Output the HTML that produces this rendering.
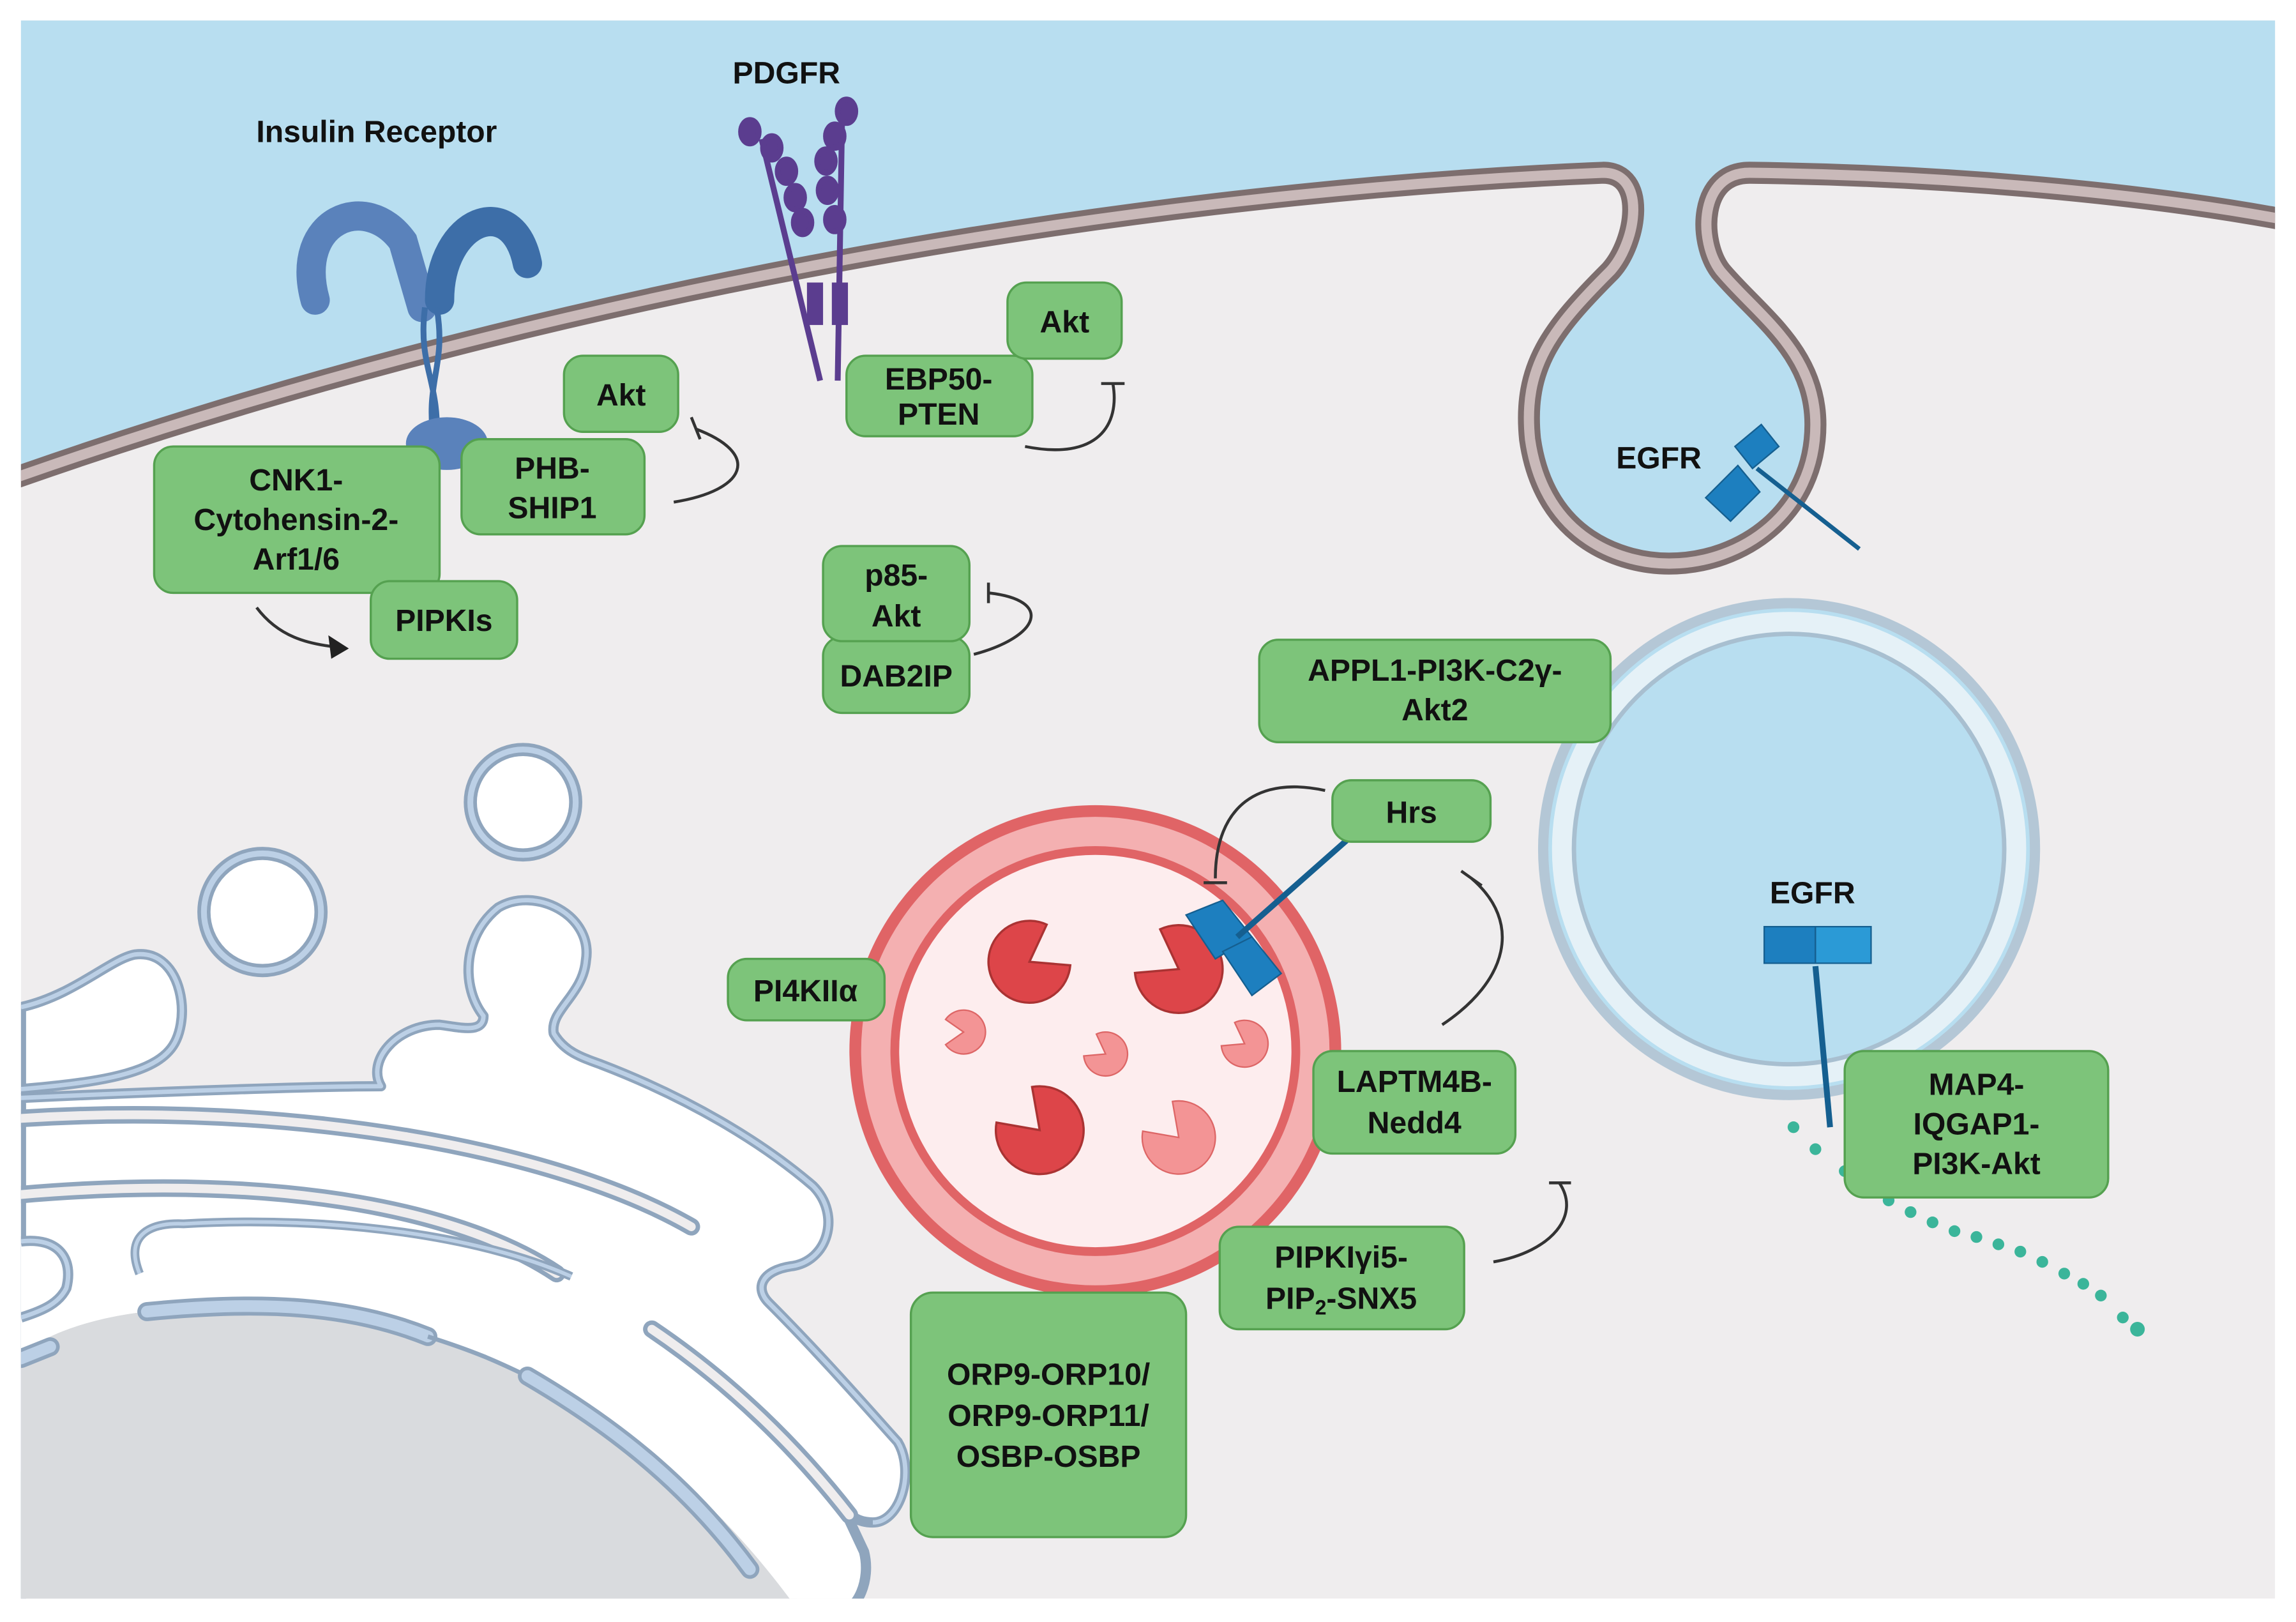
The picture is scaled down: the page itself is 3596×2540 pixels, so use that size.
<!DOCTYPE html>
<html><head><meta charset="utf-8"><style>
html,body{margin:0;padding:0;background:#fff;width:3596px;height:2540px;overflow:hidden}
svg{display:block}
text{font-family:"Liberation Sans",sans-serif;font-weight:bold;fill:#111;text-anchor:middle}
.b{fill:#7dc47a;stroke:#55a150;stroke-width:1.5}
.w{fill:#fff;stroke:#8fa5bd;stroke-width:7;stroke-linejoin:round}
.wl{fill:none;stroke:#bcd0e6;stroke-width:3;stroke-linejoin:round}
.gd{fill:none;stroke:#8fa5bd;stroke-width:12;stroke-linecap:round}
.gl{fill:none;stroke:#efedee;stroke-width:6;stroke-linecap:round}
.td{fill:none;stroke:#8fa5bd;stroke-width:13;stroke-linecap:round}
.tl{fill:none;stroke:#bcd0e6;stroke-width:8;stroke-linecap:round}
.inh{fill:none;stroke:#333;stroke-width:2}
</style></head><body>
<svg width="3596" height="2540" viewBox="0 0 1568 1108" xmlns="http://www.w3.org/2000/svg">
<defs><clipPath id="f"><rect x="14" y="14" width="1540" height="1078"/></clipPath></defs>
<g clip-path="url(#f)">
<rect x="14" y="14" width="1540" height="1078" fill="#efedee"/>
<path d="M14,325 C400,190 800,130 1095,118 C1125,118 1118,165 1100,185 C1060,225 1040,250 1045,300 C1055,370 1110,385 1140,385 C1190,385 1240,350 1240,290 C1240,240 1200,215 1175,185 C1160,165 1160,118 1195,118 C1350,120 1480,135 1560,150 L1560,0 L0,0 L0,330 Z" fill="#b8def0"/>
<path d="M0,330 L14,325 C400,190 800,130 1095,118 C1125,118 1118,165 1100,185 C1060,225 1040,250 1045,300 C1055,370 1110,385 1140,385 C1190,385 1240,350 1240,290 C1240,240 1200,215 1175,185 C1160,165 1160,118 1195,118 C1350,120 1480,135 1560,150" fill="none" stroke="#7d6e6e" stroke-width="15"/>
<path d="M0,330 L14,325 C400,190 800,130 1095,118 C1125,118 1118,165 1100,185 C1060,225 1040,250 1045,300 C1055,370 1110,385 1140,385 C1190,385 1240,350 1240,290 C1240,240 1200,215 1175,185 C1160,165 1160,118 1195,118 C1350,120 1480,135 1560,150" fill="none" stroke="#c9b9b9" stroke-width="7"/>
<!-- nucleus -->
<ellipse cx="250" cy="1250" rx="330" ry="350" fill="#d9dbde"/>
<!-- golgi -->
<path class="w" d="M14,688 C50,680 75,655 92,652 C125,648 132,700 115,718 C100,735 60,740 14,744 Z"/>
<path class="wl" d="M14,688 C50,680 75,655 92,652 C125,648 132,700 115,718 C100,735 60,740 14,744"/>
<path class="w" d="M14,750 C120,745 220,742 260,742 C250,725 270,700 300,700 C315,702 330,706 330,694 C315,675 315,640 340,620 C365,605 405,625 400,656 C398,680 375,690 378,706 C385,718 396,722 410,727 C470,750 520,780 555,810 C575,830 565,862 540,865 C520,868 515,880 525,890 C560,925 595,965 613,985 C625,1005 615,1040 596,1040 C585,1040 580,1035 575,1028 L590,1060 C595,1080 585,1100 575,1100 L14,1100 Z"/>
<path class="wl" d="M14,750 C120,745 220,742 260,742 C250,725 270,700 300,700 C315,702 330,706 330,694 C315,675 315,640 340,620 C365,605 405,625 400,656 C398,680 375,690 378,706 C385,718 396,722 410,727 C470,750 520,780 555,810 C575,830 565,862 540,865 C520,868 515,880 525,890 C560,925 595,965 613,985 C625,1005 615,1040 596,1040"/>
<!-- gaps -->
<path class="gd" d="M14,764 C200,752 380,785 472,838"/><path class="gl" d="M14,764 C200,752 380,785 472,838"/>
<path class="gd" d="M14,816 C200,800 320,830 380,870"/><path class="gl" d="M14,816 C200,800 320,830 380,870"/>
<path class="gd" d="M445,908 C500,945 545,990 580,1035"/><path class="gl" d="M445,908 C500,945 545,990 580,1035"/>
<!-- nucleus area below cisterna (restore grey) -->
<path d="M14,925 C40,905 80,898 100,896 C200,890 260,900 300,915 C400,950 480,1010 545,1100 L14,1100 Z" fill="#d9dbde"/>
<path d="M14,850 C60,845 80,870 95,870 C180,862 260,870 330,885 L300,915 C260,900 200,890 100,896 C80,898 40,905 14,925 Z" fill="#fff"/>
<path d="M95,870 C85,845 100,835 125,836 C230,830 330,845 390,872" fill="none" stroke="#8fa5bd" stroke-width="6"/>
<path d="M95,870 C85,845 100,835 125,836 C230,830 330,845 390,872" fill="none" stroke="#bcd0e6" stroke-width="2.5"/>
<path d="M14,848 C40,845 50,860 45,880 C40,890 30,895 14,900" fill="none" stroke="#8fa5bd" stroke-width="7"/>
<path d="M14,848 C40,845 50,860 45,880 C40,890 30,895 14,900" fill="none" stroke="#bcd0e6" stroke-width="3"/>
<path class="td" d="M14,928 L34,920"/><path class="tl" d="M14,928 L34,920"/>
<path class="td" d="M100,896 C180,888 240,892 292,913"/><path class="tl" d="M100,896 C180,888 240,892 292,913"/>
<path d="M292,913 C330,925 345,933 360,940" fill="none" stroke="#8fa5bd" stroke-width="3"/>
<path class="td" d="M360,940 C420,975 470,1015 512,1072"/><path class="tl" d="M360,940 C420,975 470,1015 512,1072"/>
<path class="td" d="M556,1133 L568,1110"/>
<circle cx="357" cy="548" r="36" fill="#fff" stroke="#8fa5bd" stroke-width="9"/>
<circle cx="357" cy="548" r="36" fill="none" stroke="#bcd0e6" stroke-width="4"/>
<circle cx="179" cy="623" r="40" fill="#fff" stroke="#8fa5bd" stroke-width="9"/>
<circle cx="179" cy="623" r="40" fill="none" stroke="#bcd0e6" stroke-width="4"/>
<!-- endosome -->
<circle cx="1222" cy="580" r="168" fill="#b8def0" stroke="#b4c7d6" stroke-width="7"/>
<circle cx="1222" cy="580" r="155" fill="none" stroke="#e5f1f7" stroke-width="14"/>
<circle cx="1222" cy="580" r="147" fill="none" stroke="#a8bfd0" stroke-width="3"/>
<!-- lysosome -->
<circle cx="748" cy="718" r="168" fill="#e06466"/>
<circle cx="748" cy="718" r="160" fill="#f4b0b1"/>
<circle cx="748" cy="718" r="140" fill="#e06466"/>
<circle cx="748" cy="718" r="134" fill="#fdedee"/>
<g fill="#dd4549" stroke="#a33" stroke-width="1.5">
<path d="M703,657 L714.8,631.6 A28,28 0 1 0 730.9,659.4 Z"/>
<path d="M805,662 L775.1,664.6 A30,30 0 1 0 792.3,634.8 Z"/>
<path d="M710,772 L680.5,766.8 A30,30 0 1 0 704.8,742.5 Z"/>
</g>
<g fill="#f39495" stroke="#d66" stroke-width="1">
<path d="M805,777 L780.4,772.7 A25,25 0 1 0 800.7,752.4 Z"/>
<path d="M658,705 L645.7,713.6 A15,15 0 1 0 645.7,696.4 Z"/>
<path d="M755,720 L740.1,721.3 A15,15 0 1 0 748.7,706.4 Z"/>
<path d="M850,713 L834.1,714.4 A16,16 0 1 0 843.2,698.5 Z"/>
</g>
<!-- receptors -->
<g stroke="#5a82bb" stroke-width="20" fill="none" stroke-linecap="round">
<path d="M215,205 C200,150 250,130 275,165 L288,210"/>
<path d="M300,205 C300,150 350,130 360,180" stroke="#3d6ea8"/>
</g>
<path d="M290,210 C285,250 300,260 298,300 M298,210 C305,250 290,260 296,300" stroke="#3d6ea8" stroke-width="4" fill="none"/>
<ellipse cx="305" cy="303" rx="28" ry="18" fill="#5a82bb"/>
<g stroke="#5b3d8f" stroke-width="4" fill="#5b3d8f">
<line x1="520" y1="95" x2="560" y2="260"/><line x1="575" y1="80" x2="572" y2="260"/>
<ellipse cx="512" cy="90" rx="6" ry="8"/><ellipse cx="527" cy="101" rx="6" ry="8"/><ellipse cx="537" cy="117" rx="6" ry="8"/><ellipse cx="543" cy="135" rx="6" ry="8"/><ellipse cx="548" cy="152" rx="6" ry="8"/>
<ellipse cx="578" cy="76" rx="6" ry="8"/><ellipse cx="570" cy="93" rx="6" ry="8"/><ellipse cx="564" cy="110" rx="6" ry="8"/><ellipse cx="565" cy="130" rx="6" ry="8"/><ellipse cx="570" cy="150" rx="6" ry="8"/>
<rect x="553" y="195" width="7" height="25"/><rect x="570" y="195" width="7" height="25"/>
</g>
<g fill="#1d7fbf" stroke="#155f90">
<path d="M1165,340 l22,-22 l15,18 l-20,20 z"/><path d="M1185,305 l18,-15 l12,15 l-18,15 z"/>
<path d="M1200,320 L1270,375" stroke-width="3"/>
<path d="M1205,633 h35 v25 h-35 z"/><path d="M1240,633 h38 v25 h-38 z" fill="#2b9ad6"/><path d="M1240,660 L1250,770" stroke-width="4"/>
<path d="M810,625 l25,-10 l20,25 l-25,15 z"/><path d="M835,650 l20,-10 l20,25 l-20,15 z"/>
<path d="M845,640 L930,565" stroke-width="4"/>
</g>
<g fill="#3bb59a">
<circle cx="1225" cy="770" r="4"/><circle cx="1240" cy="785" r="4"/><circle cx="1260" cy="800" r="4"/>
<circle cx="1290" cy="820" r="4"/><circle cx="1305" cy="828" r="4"/><circle cx="1320" cy="835" r="4"/><circle cx="1335" cy="841" r="4"/><circle cx="1350" cy="845" r="4"/><circle cx="1365" cy="850" r="4"/><circle cx="1380" cy="855" r="4"/><circle cx="1395" cy="862" r="4"/><circle cx="1410" cy="870" r="4"/><circle cx="1423" cy="877" r="4"/><circle cx="1435" cy="885" r="4"/><circle cx="1450" cy="900" r="4"/><circle cx="1460" cy="908" r="5"/>
</g>
</g>
<!-- inhibition/arrows -->
<path class="inh" d="M460,343 C510,335 520,310 475,293 M472,285 L478,300"/>
<path class="inh" d="M700,305 C750,315 765,290 760,262 M752,262 L768,262"/>
<path class="inh" d="M665,447 C710,435 720,410 675,405 M675,398 L675,412"/>
<path class="inh" d="M985,700 C1030,670 1040,630 1005,600 M998,595 L1012,605"/>
<path class="inh" d="M905,540 C860,530 830,550 830,600 M822,603 L838,603"/>
<path class="inh" d="M1020,862 C1060,855 1080,830 1065,808 M1058,808 L1073,808"/>
<path class="inh" d="M175,415 C190,435 210,440 230,442"/><path d="M238,443 L224,434 L226,450 z" fill="#222"/>
<!-- boxes -->
<rect class="b" x="105" y="305" width="195" height="100" rx="13"/>
<text font-size="21"><tspan x="202" y="335">CNK1-</tspan><tspan x="202" y="362">Cytohensin-2-</tspan><tspan x="202" y="389">Arf1/6</tspan></text>
<rect class="b" x="315" y="300" width="125" height="65" rx="13"/>
<text font-size="21"><tspan x="377" y="327">PHB-</tspan><tspan x="377" y="354">SHIP1</tspan></text>
<rect class="b" x="385" y="243" width="78" height="52" rx="13"/><text x="424" y="277" font-size="21">Akt</text>
<rect class="b" x="253" y="397" width="100" height="53" rx="13"/><text x="303" y="431" font-size="21">PIPKIs</text>
<rect class="b" x="578" y="243" width="127" height="55" rx="13"/>
<text font-size="21"><tspan x="641" y="266">EBP50-</tspan><tspan x="641" y="290">PTEN</tspan></text>
<rect class="b" x="688" y="193" width="78" height="52" rx="13"/><text x="727" y="227" font-size="21">Akt</text>
<rect class="b" x="562" y="435" width="100" height="52" rx="13"/><text x="612" y="469" font-size="21">DAB2IP</text>
<rect class="b" x="562" y="373" width="100" height="65" rx="13"/>
<text font-size="21"><tspan x="612" y="400">p85-</tspan><tspan x="612" y="428">Akt</tspan></text>
<rect class="b" x="860" y="437" width="240" height="70" rx="13"/>
<text font-size="21"><tspan x="980" y="465">APPL1-PI3K-C2γ-</tspan><tspan x="980" y="492">Akt2</tspan></text>
<rect class="b" x="910" y="533" width="108" height="42" rx="13"/><text x="964" y="562" font-size="21">Hrs</text>
<rect class="b" x="497" y="655" width="107" height="42" rx="13"/><text x="550" y="684" font-size="21">PI4KIIα</text>
<rect class="b" x="897" y="718" width="138" height="70" rx="13"/>
<text font-size="21"><tspan x="966" y="746">LAPTM4B-</tspan><tspan x="966" y="774">Nedd4</tspan></text>
<rect class="b" x="833" y="838" width="167" height="70" rx="13"/>
<text font-size="21"><tspan x="916" y="866">PIPKIγi5-</tspan><tspan x="916" y="894">PIP<tspan font-size="14" dy="4">2</tspan><tspan dy="-4">-SNX5</tspan></tspan></text>
<rect class="b" x="622" y="883" width="188" height="167" rx="15"/>
<text font-size="21"><tspan x="716" y="946">ORP9-ORP10/</tspan><tspan x="716" y="974">ORP9-ORP11/</tspan><tspan x="716" y="1002">OSBP-OSBP</tspan></text>
<rect class="b" x="1260" y="718" width="180" height="100" rx="13"/>
<text font-size="21"><tspan x="1350" y="748">MAP4-</tspan><tspan x="1350" y="775">IQGAP1-</tspan><tspan x="1350" y="802">PI3K-Akt</tspan></text>
<text x="257" y="97" font-size="21">Insulin Receptor</text>
<text x="537" y="57" font-size="21">PDGFR</text>
<text x="1133" y="320" font-size="21">EGFR</text>
<text x="1238" y="617" font-size="21">EGFR</text>
</svg>
</body></html>
